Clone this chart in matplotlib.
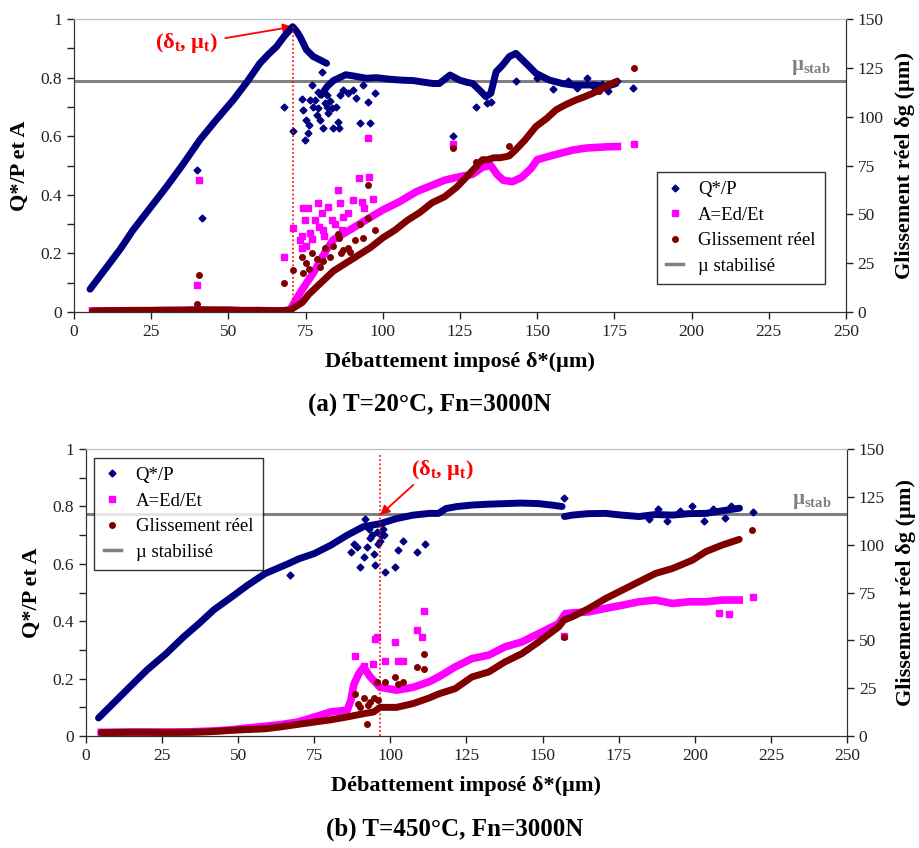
#!/usr/bin/env python
# -*- coding: utf-8 -*-

"""
plot.py

Two-panel fretting chart: Q*/P, A=Ed/Et and real slip vs. imposed
displacement, for T=20°C and T=450°C (Fn=3000N).
"""
# ~~~ 1) Imports ~~~~~~~~~~~~~~~~~~~~~~~~~~~~~~~~~~~~~~~~~~~~~~~~~~~~~~~~~~~~~ #
import matplotlib
matplotlib.use('Agg')
import matplotlib.pyplot as plt
from matplotlib.lines import Line2D
from matplotlib.ticker import MultipleLocator

# ~~~ 2) Data ~~~~~~~~~~~~~~~~~~~~~~~~~~~~~~~~~~~~~~~~~~~~~~~~~~~~~~~~~~~~~~~~ #
# (a) T=20°C -- Q*/P main trend (rise, peak, decay) and stabilised band
qa_rise_x = [5.2, 10, 15, 19.2, 25, 30, 35, 40.8, 46, 51.6, 56, 60.2, 63,
             65.6, 68, 70.8, 72, 73.2, 75.3, 77.5, 79.6, 81.8]
qa_rise_y = [0.078, 0.145, 0.215, 0.281, 0.36, 0.428, 0.50, 0.588, 0.655,
             0.724, 0.785, 0.849, 0.88, 0.906, 0.94, 0.974, 0.96, 0.94,
             0.895, 0.872, 0.861, 0.849]
qa_band_x = [80, 82, 84, 86, 88, 91, 94.7, 98, 102, 105.5, 110, 113, 116.3,
             118.3, 121.8, 124.8, 127, 129.1, 131.3, 133.4, 135, 136.7,
             138.8, 141, 143.1, 146.4, 149.6, 153.9, 158.2, 161.5, 165.8,
             169, 172.3, 175.5]
qa_band_y = [0.74, 0.77, 0.79, 0.80, 0.81, 0.805, 0.798, 0.80, 0.795, 0.792,
             0.79, 0.785, 0.78, 0.78, 0.809, 0.792, 0.785, 0.78, 0.758,
             0.735, 0.747, 0.82, 0.843, 0.872, 0.883, 0.849, 0.815, 0.792,
             0.78, 0.775, 0.775, 0.775, 0.769, 0.78]
qa_pts_x = [40, 41.3, 68.1, 71, 73.7, 74.2, 74.8, 75.3, 76.4, 77, 77.5, 78,
            78.6, 79.1, 79.6, 80.2, 80.7, 81.3, 82.3, 83.4, 84, 85.6, 85.9,
            86.1, 87.2, 88.8, 90.4, 91.3, 92.6, 93.7, 95.3, 95.8, 97.4,
            122.7, 130.2, 133.7, 135, 143, 150, 155, 160, 163, 166, 168,
            171, 173, 176, 181.2, 76, 79, 82, 83, 85, 75.8, 81.8]
qa_pts_y = [0.485, 0.32, 0.70, 0.618, 0.726, 0.69, 0.588, 0.656, 0.724,
            0.775, 0.70, 0.724, 0.673, 0.695, 0.656, 0.82, 0.627, 0.714,
            0.678, 0.695, 0.627, 0.65, 0.627, 0.74, 0.757, 0.746, 0.757,
            0.73, 0.644, 0.775, 0.718, 0.644, 0.746, 0.602, 0.70, 0.712,
            0.718, 0.79, 0.80, 0.76, 0.79, 0.765, 0.80, 0.77, 0.78, 0.755,
            0.79, 0.766, 0.64, 0.75, 0.70, 0.72, 0.70, 0.61, 0.74]

# (a) A=Ed/Et
aa_x = [6, 20, 40, 55, 68, 70, 73.2, 75.3, 77.5, 79.6, 81.8, 84, 89.3, 94.7,
        100.1, 105.5, 110.9, 116.3, 120, 124.9, 129, 132.4, 135, 137, 139,
        142, 145, 148, 150, 155, 161.6, 166, 172.6, 176]
aa_y = [0.004, 0.004, 0.006, 0.005, 0.004, 0.008, 0.065, 0.099, 0.133, 0.173,
        0.213, 0.247, 0.28, 0.315, 0.349, 0.377, 0.411, 0.434, 0.45, 0.462,
        0.47, 0.495, 0.50, 0.47, 0.45, 0.445, 0.46, 0.49, 0.52, 0.535,
        0.553, 0.56, 0.564, 0.565]
aa_pts_x = [39.7, 40.6, 68.1, 71, 73.2, 73.7, 74.2, 74.8, 75.3, 75.9, 76.4,
            78, 79.1, 80.2, 80.7, 82.3, 83.4, 85.6, 86.1, 87.2, 88.8, 90.4,
            92.4, 93.4, 93.8, 95.1, 95.6, 96.9, 122.8, 181.3, 74, 77, 79.5,
            81, 84.5, 86.8]
aa_pts_y = [0.091, 0.451, 0.1875, 0.286, 0.247, 0.218, 0.355, 0.315, 0.224,
            0.355, 0.27, 0.315, 0.372, 0.338, 0.28, 0.36, 0.315, 0.417,
            0.372, 0.326, 0.338, 0.383, 0.457, 0.377, 0.355, 0.593, 0.4625,
            0.385, 0.573, 0.575, 0.26, 0.25, 0.29, 0.26, 0.30, 0.28]

# (a) Glissement réel (µm, right axis)
ga_x = [6, 10, 15, 20, 25, 30, 35, 40, 45, 50, 55, 60, 65, 68, 70, 72, 74,
        76, 78, 80, 82, 84, 86, 88, 90, 93, 96, 100, 104, 108, 112, 116, 120,
        124, 127, 130, 132.3, 134, 136, 138, 140, 141, 143, 146, 149.6, 153,
        156.1, 159, 162.6, 165, 168, 172.3, 175.5]
ga_y = [0.5, 0.7, 0.8, 0.9, 0.9, 1.0, 1.0, 1.2, 1.1, 1.1, 0.8, 0.9, 0.7, 0.8,
        1.0, 3, 5, 9, 12, 15, 18, 21, 23, 25, 27, 30, 33, 38, 42, 47, 51, 56,
        59, 64, 69, 74, 78, 78, 79, 79, 79.6, 80, 83, 88, 95, 99, 103.5, 106,
        108.6, 110, 112, 115.4, 118]
ga_pts_x = [39.7, 40.6, 68.1, 71, 73.7, 74.2, 75.3, 77, 78.6, 79.6, 81.3, 84,
            85.6, 85.9, 87.2, 88.8, 91, 92.6, 93.7, 95.1, 95.3, 97.4, 122.8,
            130.2, 141, 170, 173, 181.3, 76, 80.5, 83, 86.5, 89.5]
ga_pts_y = [4, 19, 15, 21.6, 28, 20, 25, 30, 27, 23, 33, 34, 40, 38, 32, 33,
            37, 45, 38, 65, 48, 42, 84, 77, 85, 113, 117, 125, 22, 26, 28,
            30, 31]

# (b) T=450°C -- Q*/P
qb_rise_x = [4.1, 10, 15.5, 20, 26.3, 32, 37.1, 42, 47.9, 53, 58.8, 63, 66.3,
             70, 75, 80.4, 85.8, 91.2, 94.5, 96.6, 102, 107.5, 112.9, 115.8,
             118.3, 122, 126.8, 132, 137.7, 143, 148.7, 153, 156.4]
qb_rise_y = [0.063, 0.125, 0.183, 0.23, 0.287, 0.345, 0.392, 0.44, 0.485,
             0.525, 0.566, 0.585, 0.60, 0.618, 0.636, 0.665, 0.70, 0.73,
             0.736, 0.74, 0.758, 0.77, 0.776, 0.776, 0.793, 0.80, 0.805,
             0.808, 0.81, 0.812, 0.81, 0.805, 0.80]
qb_band_x = [157.2, 159.7, 165, 170.7, 176, 181.7, 187, 192.7, 198, 203.7,
             209, 214.7]
qb_band_y = [0.765, 0.77, 0.775, 0.776, 0.77, 0.765, 0.772, 0.77, 0.775,
             0.776, 0.785, 0.794]
qb_pts_x = [67.1, 86.9, 88, 89, 90, 91.2, 91.8, 92.3, 93.4, 94.5, 95, 96, 97,
            98, 98.3, 101.5, 102.4, 104.3, 108.8, 111.3, 157, 185, 188, 191,
            195, 199, 203, 206, 210, 212, 219, 93, 94, 95.5, 96.5, 97.5]
qb_pts_y = [0.56, 0.642, 0.67, 0.66, 0.59, 0.623, 0.756, 0.66, 0.69, 0.636,
            0.595, 0.67, 0.70, 0.70, 0.57, 0.59, 0.647, 0.68, 0.64, 0.67,
            0.83, 0.755, 0.79, 0.75, 0.785, 0.80, 0.75, 0.79, 0.76, 0.80,
            0.78, 0.72, 0.70, 0.71, 0.68, 0.72]

# (b) A=Ed/Et
ab_x = [5, 15, 25, 35, 42, 47.9, 53, 58.8, 64, 69.6, 75, 80.4, 85.8, 87, 88,
        89.6, 91.2, 93.4, 96.6, 102, 107.5, 112.9, 115.8, 121.3, 126.8,
        132.3, 137.7, 143.2, 148.7, 155.3, 157.5, 161, 165.2, 170.7, 176.2,
        181.7, 187.1, 192.7, 198.1, 203.6, 209.1, 214.6]
ab_y = [0.013, 0.014, 0.014, 0.015, 0.018, 0.022, 0.028, 0.034, 0.04, 0.049,
        0.066, 0.084, 0.09, 0.124, 0.18, 0.217, 0.24, 0.206, 0.17, 0.16,
        0.17, 0.19, 0.206, 0.241, 0.27, 0.282, 0.311, 0.328, 0.357, 0.392,
        0.427, 0.43, 0.433, 0.445, 0.456, 0.468, 0.474, 0.462, 0.468, 0.468,
        0.474, 0.474]
ab_pts_x = [88.3, 91.2, 94.3, 94.8, 95.6, 98.1, 101.4, 102.4, 104.3, 108.6,
            110.5, 111.1, 157.2, 208, 211.3, 219]
ab_pts_y = [0.278, 0.243, 0.25, 0.337, 0.345, 0.263, 0.328, 0.26, 0.262,
            0.369, 0.345, 0.435, 0.348, 0.43, 0.424, 0.483]

# (b) Glissement réel (µm, right axis)
gb_x = [5, 10, 15, 20, 25, 30, 35, 40, 47.9, 53, 58.8, 64, 69.6, 75, 80.4,
        85.8, 91.2, 94.5, 96.6, 102, 107.5, 112.9, 115.8, 121.3, 126.8, 132.3,
        137.7, 143.2, 148.7, 155.3, 157, 159.7, 165.2, 170.7, 176.2, 181.7,
        187.1, 192.7, 199.3, 203.6, 209.1, 214.6]
gb_y = [1.8, 1.9, 2.0, 2.0, 1.9, 1.9, 2.0, 2.2, 3.0, 3.4, 3.8, 4.8, 6.1, 7.3,
        8.5, 10, 11.7, 12.6, 15, 15, 17, 20, 22, 24.8, 30.9, 33.5, 38.8, 43.1,
        49.2, 57.1, 60.6, 62.3, 66.7, 71.9, 76.3, 80.7, 85, 87.6, 92, 96.4,
        99.9, 102.8]
gb_pts_x = [88.3, 89.4, 91.2, 92.3, 93.4, 94.5, 95.6, 98.3, 101.5, 102.4,
            104.3, 108.8, 111.1, 111.1, 157.2, 218.8, 90, 92.8, 96]
gb_pts_y = [22, 17, 20, 6.5, 18, 20, 28, 28, 31, 27, 28, 36, 43, 35, 52,
            107.7, 15, 16, 19]

# Reference values
mu_stab = [0.79, 0.773]
delta_t = [70.8, 96.6]
mu_t = [0.974, 0.77]
captions = ['(a) T=20°C, Fn=3000N', '(b) T=450°C, Fn=3000N']

# ~~~ 3) Style ~~~~~~~~~~~~~~~~~~~~~~~~~~~~~~~~~~~~~~~~~~~~~~~~~~~~~~~~~~~~~~~ #
NAVY = '#000080'
MAGENTA = '#ff00ff'
DARKRED = '#800000'
GREY = '#808080'

plt.rcParams['font.family'] = ['Liberation Serif', 'DejaVu Serif']
plt.rcParams['mathtext.fontset'] = 'custom'
plt.rcParams['mathtext.rm'] = 'Liberation Serif'
plt.rcParams['mathtext.bf'] = 'Liberation Serif:bold'
plt.rcParams['mathtext.default'] = 'bf'


def drawPanel(fig, rect, series, idx, legendLoc):
    """
    Draw one panel: Q*/P and A on the left axis, slip on the right axis.
    """
    (qTrends, qPts, aTrend, aPts, gTrend, gPts) = series
    ax = fig.add_axes(rect)
    ax2 = ax.twinx()

    for tx, ty in qTrends:
        ax.plot(tx, ty, '-', color=NAVY, lw=5, solid_capstyle='round',
                zorder=5)
    ax.plot(qPts[0], qPts[1], 'D', color=NAVY, ms=3.5, ls='none', zorder=5)
    ax.plot(aTrend[0], aTrend[1], '-', color=MAGENTA, lw=5.5, zorder=3)
    ax.plot(aPts[0], aPts[1], 's', color=MAGENTA, ms=4, ls='none', zorder=3)
    ax.axhline(mu_stab[idx], color=GREY, lw=2.2, zorder=2)

    ax2.plot(gTrend[0], gTrend[1], '-', color=DARKRED, lw=5,
             solid_capstyle='round')
    ax2.plot(gPts[0], gPts[1], 'o', color=DARKRED, ms=4, ls='none')

    # transition point
    ax.axvline(delta_t[idx], ymax=mu_t[idx] if idx == 0 else 0.985,
               color='red', lw=1.2, ls=(0, (1, 1.5)), zorder=6)

    ax.set_xlim(0, 250)
    ax.set_ylim(0, 1)
    ax2.set_ylim(0, 150)
    ax.xaxis.set_major_locator(MultipleLocator(25))
    ax.yaxis.set_major_locator(MultipleLocator(0.2))
    ax.yaxis.set_minor_locator(MultipleLocator(0.1))
    ax2.yaxis.set_major_locator(MultipleLocator(25))
    ax.yaxis.set_major_formatter(
        plt.FuncFormatter(lambda v, p: '%g' % round(v, 1)))

    for a in (ax, ax2):
        a.tick_params(direction='out', length=5, width=1, labelsize=12.5,
                      colors='#222222')
        a.spines['top'].set_color('#bdbdbd')
        for s in ('left', 'right', 'bottom'):
            a.spines[s].set_color('#333333')
    ax.tick_params(which='minor', direction='out', length=5, width=1,
                   colors='#222222')

    ax.set_xlabel('Débattement imposé δ*(µm)', fontsize=16,
                  fontweight='bold', labelpad=9)
    ax.set_ylabel('Q*/P et A', fontsize=16, fontweight='bold', labelpad=8)
    ax2.set_ylabel('Glissement réel δg (µm)', fontsize=16,
                   fontweight='bold', labelpad=8)

    ax.text(245, mu_stab[idx] + 0.012, 'µ$_{stab}$', color=GREY, fontsize=15,
            fontweight='bold', ha='right', va='bottom')

    # legend (marker-only handles)
    handles = [
        Line2D([], [], marker='D', color=NAVY, ms=3.5, ls='none'),
        Line2D([], [], marker='s', color=MAGENTA, ms=4, ls='none'),
        Line2D([], [], marker='o', color=DARKRED, ms=4, ls='none'),
        Line2D([], [], color=GREY, lw=2.5),
    ]
    labels = ['Q*/P', 'A=Ed/Et', 'Glissement réel', 'µ stabilisé']
    leg = ax2.legend(handles, labels, loc=legendLoc, fontsize=13.5,
                     frameon=True, fancybox=False, handlelength=0.9,
                     handletextpad=0.8, labelspacing=0.45,
                     borderpad=0.5, borderaxespad=0.45)
    leg.get_frame().set_edgecolor('black')
    leg.get_frame().set_linewidth(1.0)
    return ax, ax2


def main():
    fig = plt.figure(figsize=(9.19, 8.48), dpi=100)

    seriesA = ([(qa_rise_x, qa_rise_y), (qa_band_x, qa_band_y)],
               (qa_pts_x, qa_pts_y), (aa_x, aa_y), (aa_pts_x, aa_pts_y),
               (ga_x, ga_y), (ga_pts_x, ga_pts_y))
    seriesB = ([(qb_rise_x, qb_rise_y), (qb_band_x, qb_band_y)],
               (qb_pts_x, qb_pts_y), (ab_x, ab_y), (ab_pts_x, ab_pts_y),
               (gb_x, gb_y), (gb_pts_x, gb_pts_y))

    axA, _ = drawPanel(fig, [0.0805, 0.632, 0.840, 0.3455], seriesA, 0,
                       (0.755, 0.095))
    axB, _ = drawPanel(fig, [0.0936, 0.132, 0.828, 0.3384], seriesB, 1,
                       'upper left')

    # annotations: label, then arrow from its edge to the transition point
    arrow = dict(arrowstyle='-|>', color='red', lw=1.3, shrinkA=0,
                 shrinkB=0, mutation_scale=14)
    axA.text(36.3, 0.918, '(δ$_{t}$, µ$_{t}$)', color='red', fontsize=16,
             fontweight='bold', ha='center', va='center')
    axA.annotate('', xy=(delta_t[0], mu_t[0]), xytext=(49, 0.935),
                 arrowprops=arrow)
    axB.text(117, 0.927, '(δ$_{t}$, µ$_{t}$)', color='red', fontsize=16,
             fontweight='bold', ha='center', va='center')
    axB.annotate('', xy=(delta_t[1], mu_t[1]), xytext=(107.5, 0.875),
                 arrowprops=arrow)

    fig.text(0.468, 0.522, captions[0], fontsize=18, fontweight='bold',
             ha='center', va='center')
    fig.text(0.495, 0.022, captions[1], fontsize=18, fontweight='bold',
             ha='center', va='center')

    fig.savefig('out.png', dpi=100)


if __name__ == '__main__':
    main()
